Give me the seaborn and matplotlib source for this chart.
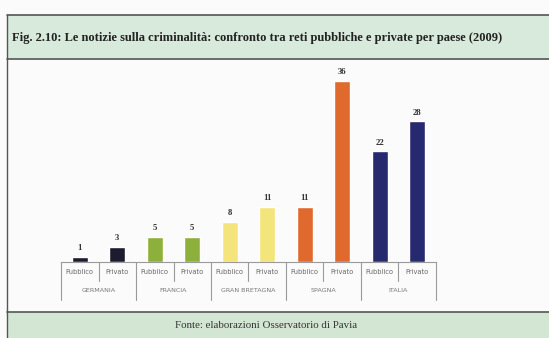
import pandas as pd
import matplotlib.pyplot as plt
import seaborn as sns
from matplotlib.patches import Rectangle
from matplotlib.lines import Line2D

# Data
paesi = ["GERMANIA", "FRANCIA", "GRAN BRETAGNA", "SPAGNA", "ITALIA"]
reti = ["Pubblico", "Privato"]
pubblico = [1, 5, 8, 11, 22]
privato = [3, 5, 11, 36, 28]
colori = ["#1c1c30", "#8db03c", "#f3e47c", "#e0692e", "#27296e"]

rows = []
for p, pub, priv in zip(paesi, pubblico, privato):
    rows.append({"paese": p, "rete": "Pubblico", "valore": pub, "key": p + " Pubblico"})
    rows.append({"paese": p, "rete": "Privato", "valore": priv, "key": p + " Privato"})
df = pd.DataFrame(rows)
palette = {p + " " + r: c for p, c in zip(paesi, colori) for r in reti}

sns.set_theme(style="white")
plt.rcParams["font.family"] = ["DejaVu Sans"]

fig = plt.figure(figsize=(5.49, 3.38), dpi=100)
W, H = 549, 338

# frame, title band and footer band (figure pixels -> fractions)
def fx(x):
    return x / W

def fy(y):
    return 1 - y / H

fig.patches.append(Rectangle((fx(7), fy(59)), fx(545), 44 / H, transform=fig.transFigure,
                             facecolor="#d8eadb", edgecolor="none", zorder=0))
fig.patches.append(Rectangle((fx(7), 0), fx(545), (338 - 312) / H, transform=fig.transFigure,
                             facecolor="#d3e6d3", edgecolor="none", zorder=0))
for y in (15, 59, 312):
    fig.lines.append(Line2D([fx(7), 1], [fy(y), fy(y)], transform=fig.transFigure,
                            color="#555555", lw=1.2))
fig.lines.append(Line2D([fx(7), fx(7)], [0, fy(15)], transform=fig.transFigure,
                        color="#555555", lw=1.0))

fig.text(fx(12), fy(38), "Fig. 2.10: Le notizie sulla criminalità: confronto tra reti pubbliche e private per paese (2009)",
         family="Liberation Serif", weight="bold", fontsize=9.0, color="#222222", va="center")
fig.text(fx(266), fy(326), "Fonte: elaborazioni Osservatorio di Pavia",
         family="Liberation Serif", fontsize=7.8, color="#333333", va="center", ha="center")

ax = fig.add_axes([fx(61), fy(262), (436 - 61) / W, 192 / H])
sns.barplot(data=df, x="key", y="valore", hue="key", palette=palette, dodge=False,
            legend=False, width=0.43, saturation=1, ax=ax)
ax.set_ylim(0, 192 / 5.03)
ax.set_xlim(-0.5, len(df) - 0.5)
ax.set_xlabel("")
ax.set_ylabel("")
ax.set_xticks([])
ax.set_yticks([])
for s in ("top", "right", "left"):
    ax.spines[s].set_visible(False)
ax.spines["bottom"].set_color("#9a9a9a")
ax.spines["bottom"].set_linewidth(0.8)
ax.patch.set_alpha(0)

# value labels
for i, v in enumerate(df["valore"]):
    ax.text(i, v + 0.9, str(v), ha="center", va="bottom", fontsize=6.3,
            family="Liberation Serif", weight="bold", color="#333333")

# table-like category axis
tr = ax.get_xaxis_transform()
row1, row2 = -0.099, -0.198
for i, r in enumerate(df["rete"]):
    ax.text(i, row1 / 2, r, transform=tr, ha="center", va="center", fontsize=4.8, color="#666666")
for j, p in enumerate(paesi):
    ax.text(2 * j + 0.5, (row1 + row2) / 2, p, transform=tr, ha="center", va="center",
            fontsize=4.6, color="#777777")
for k in range(len(df) + 1):
    bottom = row2 if k % 2 == 0 else row1
    ax.plot([k - 0.5, k - 0.5], [0, bottom], transform=tr, color="#9a9a9a", lw=0.8, clip_on=False)

fig.savefig("out.png", dpi=100, facecolor="#fbfbfb")
